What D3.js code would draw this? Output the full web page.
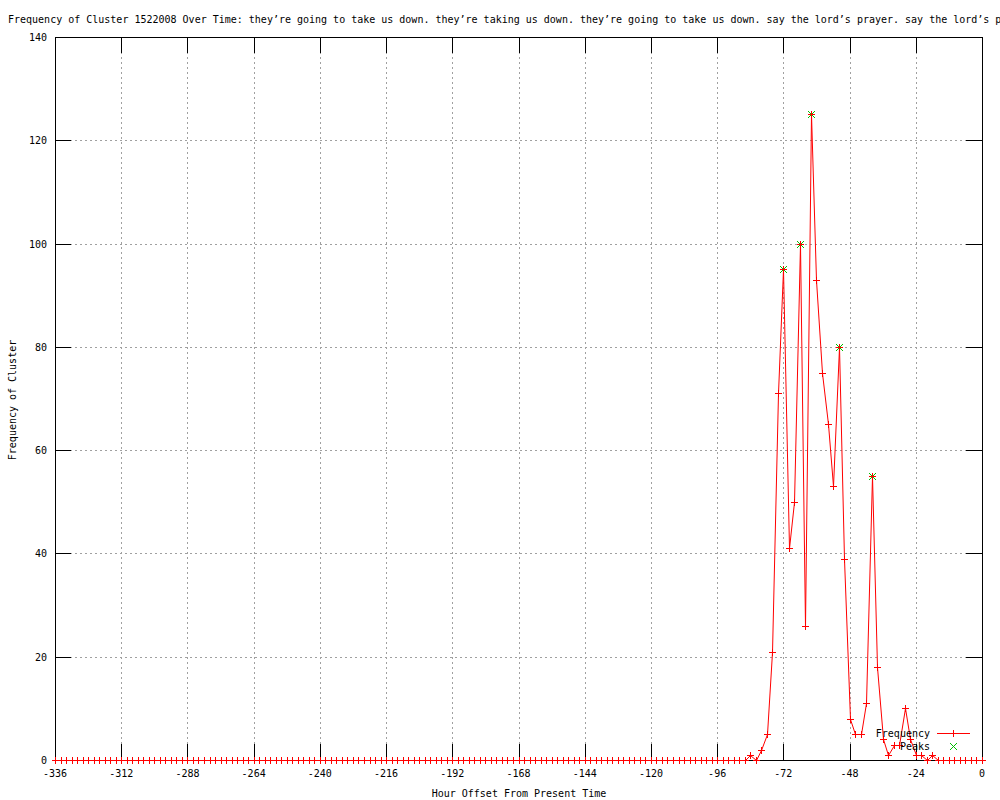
<!DOCTYPE html>
<html>
<head>
<meta charset="utf-8">
<script src="https://cdn.jsdelivr.net/npm/d3@7"></script>
<style>
  body { margin: 0; background: #fff; }
  svg text { font-family: "DejaVu Sans Mono", monospace; font-size: 10px; fill: #000; }
</style>
</head>
<body>
<div id="chart"></div>
<script>
const title = "Frequency of Cluster 1522008 Over Time: they\u2019re going to take us down. they\u2019re taking us down. they\u2019re going to take us down. say the lord\u2019s prayer. say the lord\u2019s prayer.";

// hour offsets run from -336 to 0 every 2 hours
const firstHour = -336;
const hourStep = 2;
const frequency = [
  0, 0, 0, 0, 0, 0, 0, 0, 0, 0, 0, 0, 0, 0, 0, 0, 0, 0, 0, 0,
  0, 0, 0, 0, 0, 0, 0, 0, 0, 0, 0, 0, 0, 0, 0, 0, 0, 0, 0, 0,
  0, 0, 0, 0, 0, 0, 0, 0, 0, 0, 0, 0, 0, 0, 0, 0, 0, 0, 0, 0,
  0, 0, 0, 0, 0, 0, 0, 0, 0, 0, 0, 0, 0, 0, 0, 0, 0, 0, 0, 0,
  0, 0, 0, 0, 0, 0, 0, 0, 0, 0, 0, 0, 0, 0, 0, 0, 0, 0, 0, 0,
  0, 0, 0, 0, 0, 0, 0, 0, 0, 0, 0, 0, 0, 0, 0, 0, 0, 0, 0, 0,
  0, 0, 0, 0, 0,
  0, 1, 0, 2, 5, 21, 71, 95, 41, 50, 100, 26, 125, 93, 75, 65, 53, 80, 39, 8,
  5, 5, 11, 55, 18, 4, 1, 3, 3, 10, 4, 1, 1, 0, 1,
  0, 0, 0, 0, 0, 0, 0, 0, 0
];
const peakHours = [-72, -66, -62, -52, -40];
const peakValues = [95, 100, 125, 80, 55];

const xTicks = [-336, -312, -288, -264, -240, -216, -192, -168, -144, -120, -96, -72, -48, -24, 0];
const yTicks = [0, 20, 40, 60, 80, 100, 120, 140];

const W = 1000, H = 800;
const plot = {left: 55, right: 982, top: 37, bottom: 760};

const svg = d3.select("#chart").append("svg")
  .attr("width", W).attr("height", H)
  .style("display", "block");

svg.append("rect").attr("width", W).attr("height", H).attr("fill", "#fff");

const x = d3.scaleLinear().domain([-336, 0]).range([plot.left, plot.right]);
const y = d3.scaleLinear().domain([0, 140]).range([plot.bottom, plot.top]);
const px = v => Math.round(x(v)) + 0.5;
const py = v => Math.round(y(v)) + 0.5;

const series = frequency.map((v, i) => ({h: firstHour + i * hourStep, v: v}));
const peaks = peakHours.map((h, i) => ({h: h, v: peakValues[i]}));

// grid
const grid = svg.append("g").attr("stroke", "#a0a0a0").attr("stroke-dasharray", "2,3")
  .attr("shape-rendering", "crispEdges");
grid.selectAll(".gx").data(xTicks.slice(1, -1)).enter().append("line")
  .attr("x1", d => px(d)).attr("x2", d => px(d))
  .attr("y1", plot.top).attr("y2", plot.bottom);
grid.selectAll(".gy").data(yTicks.slice(1, -1)).enter().append("line")
  .attr("x1", plot.left).attr("x2", plot.right)
  .attr("y1", d => py(d)).attr("y2", d => py(d));

// tick marks on all four sides, pointing inward
const tl = 16;
const ticks = svg.append("g").attr("stroke", "#000").attr("shape-rendering", "crispEdges");
xTicks.forEach(t => {
  ticks.append("line").attr("x1", px(t)).attr("x2", px(t)).attr("y1", plot.bottom).attr("y2", plot.bottom - tl);
  ticks.append("line").attr("x1", px(t)).attr("x2", px(t)).attr("y1", plot.top).attr("y2", plot.top + tl);
});
yTicks.forEach(t => {
  ticks.append("line").attr("x1", plot.left).attr("x2", plot.left + tl).attr("y1", py(t)).attr("y2", py(t));
  ticks.append("line").attr("x1", plot.right).attr("x2", plot.right - tl).attr("y1", py(t)).attr("y2", py(t));
});

// tick labels
svg.append("g").selectAll("text").data(xTicks).enter().append("text")
  .attr("x", d => x(d)).attr("y", plot.bottom + 17)
  .attr("text-anchor", "middle")
  .text(d => d);
svg.append("g").selectAll("text").data(yTicks).enter().append("text")
  .attr("x", plot.left - 8).attr("y", d => y(d) + 4)
  .attr("text-anchor", "end")
  .text(d => d);

// frame
svg.append("rect")
  .attr("x", plot.left + 0.5).attr("y", plot.top + 0.5)
  .attr("width", plot.right - plot.left).attr("height", plot.bottom - plot.top)
  .attr("fill", "none").attr("stroke", "#000").attr("shape-rendering", "crispEdges");

// frequency line
const line = d3.line().x(d => px(d.h)).y(d => py(d.v));
svg.append("path").datum(series)
  .attr("d", line)
  .attr("fill", "none").attr("stroke", "#ff0000").attr("stroke-width", 1);

const plus = "M-3.5,0H3.5M0,-3.5V3.5";
const cross = "M-3.5,-3.5L3.5,3.5M-3.5,3.5L3.5,-3.5";

svg.append("g").selectAll("path").data(peaks).enter().append("path")
  .attr("transform", d => `translate(${px(d.h)},${py(d.v)})`)
  .attr("d", cross).attr("stroke", "#00c000").attr("fill", "none");

svg.append("g").selectAll("path").data(series).enter().append("path")
  .attr("transform", d => `translate(${px(d.h)},${py(d.v)})`)
  .attr("d", plus).attr("stroke", "#ff0000").attr("fill", "none")
  .attr("shape-rendering", "crispEdges");

// legend
const legend = svg.append("g");
legend.append("text").attr("x", 930).attr("y", 737).attr("text-anchor", "end").text("Frequency");
legend.append("line").attr("x1", 937).attr("x2", 970).attr("y1", 733.5).attr("y2", 733.5)
  .attr("stroke", "#ff0000").attr("fill", "none").attr("shape-rendering", "crispEdges");
legend.append("path").attr("transform", "translate(953.5,733.5)").attr("d", plus)
  .attr("stroke", "#ff0000").attr("fill", "none").attr("shape-rendering", "crispEdges");
legend.append("text").attr("x", 930).attr("y", 750).attr("text-anchor", "end").text("Peaks");
legend.append("path").attr("transform", "translate(953.5,746.5)").attr("d", cross)
  .attr("stroke", "#00c000").attr("fill", "none");

// titles
svg.append("text").attr("x", 8).attr("y", 23).text(title);
svg.append("text").attr("x", 519).attr("y", 797).attr("text-anchor", "middle")
  .text("Hour Offset From Present Time");
svg.append("text").attr("transform", "translate(16,400) rotate(-90)")
  .attr("text-anchor", "middle").text("Frequency of Cluster");
</script>
</body>
</html>
